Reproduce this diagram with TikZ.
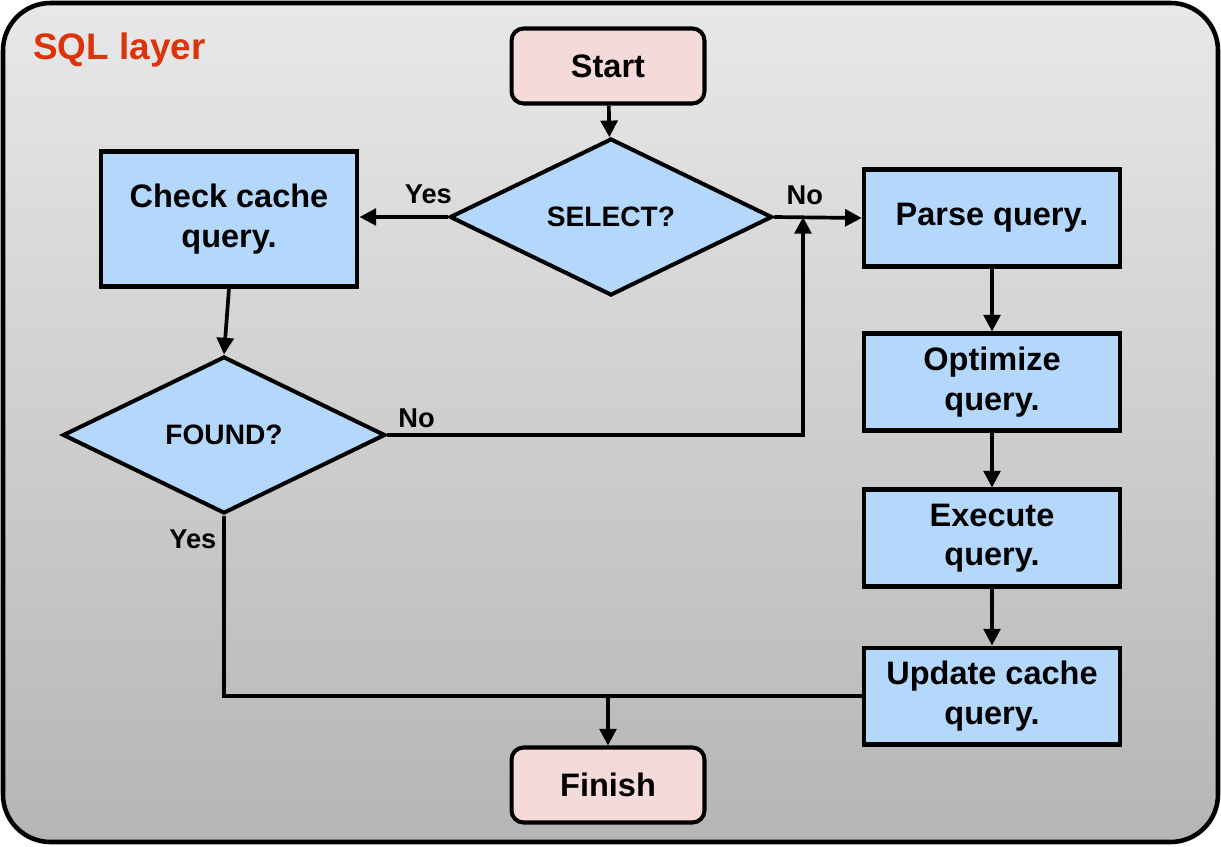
\documentclass[tikz,border=0pt]{standalone}
\usepackage{fontspec}
\setmainfont{Liberation Sans}
\usetikzlibrary{shapes.geometric,arrows.meta}

\definecolor{boxblue}{RGB}{180,216,252}
\definecolor{endpink}{RGB}{245,218,218}
\definecolor{layerred}{RGB}{221,51,10}

\begin{document}
\begin{tikzpicture}[x=0.02cm,y=-0.02cm,
  stepbox/.style={draw, line width=2.3pt, fill=boxblue, minimum width=5.13cm,
    minimum height=1.94cm, align=center,
    font=\fontsize{18.5}{22.5}\selectfont\bfseries},
  endbox/.style={draw, line width=2.3pt, fill=endpink, rounded corners=0.24cm,
    minimum width=3.86cm, minimum height=1.5cm,
    font=\fontsize{18.5}{22.5}\selectfont\bfseries},
  test/.style={diamond, draw, line width=2.3pt, fill=boxblue, inner sep=0pt,
    minimum width=6.45cm, minimum height=3.14cm,
    font=\fontsize{16}{19}\selectfont\bfseries},
  lbl/.style={font=\fontsize{15.5}{18}\selectfont\bfseries},
  wire/.style={line width=2.1pt},
  arr/.style={wire, -{Triangle[length=9.5pt,width=9.5pt]}}]
  \useasboundingbox (0,0) rectangle (1221,846);

  % Draw the layer frame
  \draw[line width=2.6pt, rounded corners=0.95cm, top color=black!9,
    bottom color=black!29] (3,3) rectangle (1218,842);
  \node[anchor=west, text=layerred, font=\fontsize{21}{24}\selectfont\bfseries]
    (layer) at (27,50) {SQL layer};

  % Draw the nodes
  \node[endbox] (start) at (608,66) {Start};
  \node[test] (select) at (611,217) {SELECT?};
  \node[stepbox, minimum width=5.14cm, minimum height=2.7cm] (check) at (229,219)
    {Check cache\\query.};
  \node[test] (found) at (224,435) {FOUND?};
  \node[stepbox] (parse) at (992,218) {Parse query.};
  \node[stepbox] (optimize) at (992,382) {Optimize\\query.};
  \node[stepbox] (execute) at (992,538) {Execute\\query.};
  \node[stepbox] (update) at (992,696) {Update cache\\query.};
  \node[endbox] (finish) at (608,785) {Finish};

  % Draw the connectors
  \draw[arr] (start) -- (select);
  \draw[arr] (select.west) -- node[lbl, above, pos=0.22, yshift=3pt] {Yes} (check.east |- select.west);
  \draw[arr] (select.east) -- node[lbl, above, pos=0.35, yshift=3pt] {No} (parse.west);
  \draw[arr] (check.south) -- (found.north);
  \coordinate (merge) at (803,217);
  \draw[arr] (found.east) node[lbl, above right, xshift=2pt] {No} -| (merge);
  \foreach \a/\b in {parse/optimize, optimize/execute, execute/update}
    \draw[arr] (\a) -- (\b);
  \draw[wire] (found.south) node[lbl, below left, yshift=-4pt] {Yes} |- (update.west);
  \coordinate (join) at (finish.north |- update.west);
  \draw[arr] (join) -- (finish.north);
\end{tikzpicture}
\end{document}
